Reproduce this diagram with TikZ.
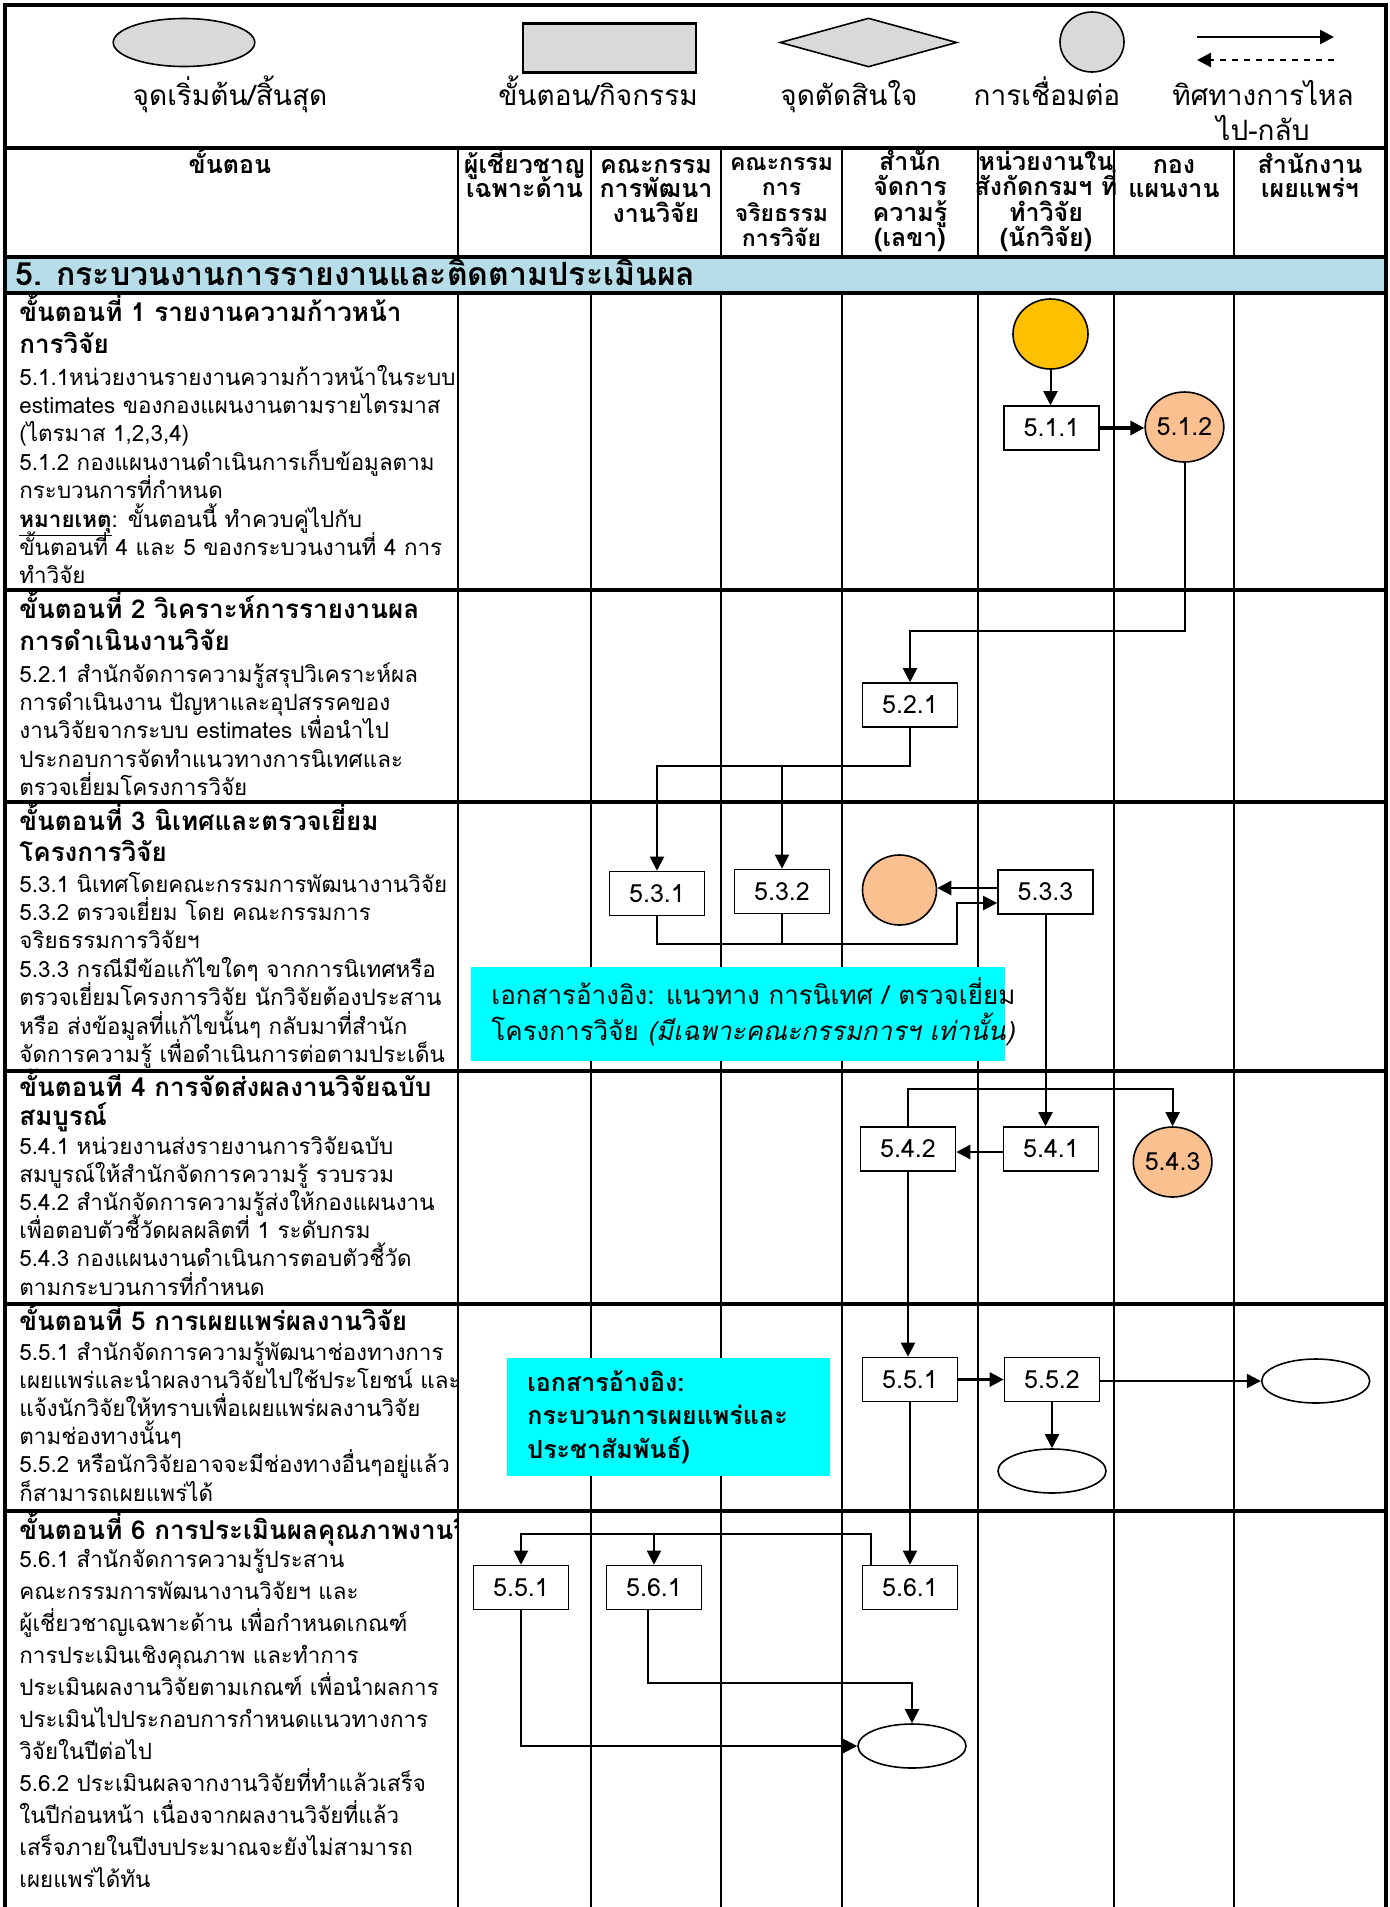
\documentclass[tikz,border=0pt]{standalone}
\usepackage{fontspec}
\setmainfont{Loma}[Script=Thai]
\usetikzlibrary{arrows.meta,shapes.geometric}
\definecolor{legendgray}{RGB}{217,217,217}
\definecolor{bandblue}{RGB}{183,221,232}
\definecolor{startyellow}{RGB}{255,192,0}
\definecolor{linkorange}{RGB}{250,192,144}
\definecolor{notecyan}{RGB}{0,255,255}
% a column of text lines, one node per line, placed on evenly spaced baselines
\newcommand{\linesat}[6]{%
  \foreach \tline [count=\k] in {#6}{%
    \node[#2] (#1\k) at (#3,{#4+(\k-1)*#5}) {\tline};}}
\begin{document}
\begin{tikzpicture}[x=0.5pt,y=-0.5pt,
  gridline/.style={line width=1pt},
  rowrule/.style={line width=1.6pt},
  flowarrow/.style={line width=1pt,-{Triangle[length=7pt,width=7pt]}},
  flowline/.style={line width=1pt},
  stepbox/.style={rectangle,draw,line width=0.8pt,fill=white,minimum width=47.5pt,minimum height=22pt,inner sep=0pt,font=\fontsize{12.5}{14}\selectfont},
  linkdot/.style={ellipse,draw,line width=0.8pt,minimum width=37.5pt,minimum height=35pt,inner sep=0pt,font=\fontsize{12.5}{14}\selectfont},
  terminal/.style={ellipse,draw,line width=0.8pt,fill=white,minimum width=54pt,minimum height=22pt,inner sep=0pt},
  refnote/.style={rectangle,fill=notecyan,inner sep=0pt},
  bodytext/.style={anchor=base west,inner sep=0pt,font=\fontsize{11.2}{13}\selectfont},
  headtext/.style={anchor=base west,inner sep=0pt,font=\bfseries\fontsize{13}{15}\selectfont},
  colhead/.style={anchor=base,inner sep=0pt,font=\bfseries\fontsize{12.5}{14}\selectfont},
  colheadsmall/.style={anchor=base,inner sep=0pt,font=\bfseries\fontsize{11.5}{13}\selectfont},
  legendtext/.style={anchor=base,inner sep=0pt,font=\fontsize{14}{16}\selectfont},
  notetext/.style={anchor=base west,inner sep=0pt,font=\fontsize{13}{15}\selectfont},
]
\useasboundingbox (0,0) rectangle (1390,1907);
\fill[white] (0,0) rectangle (1390,1907);

% ---------- table frame ----------
\fill[bandblue] (5,257) rectangle (1386,293);
\draw[line width=1.8pt] (5,1907) -- (5,5) -- (1386,5) -- (1386,1907);
\draw[line width=1.8pt] (5,148) -- (1386,148);
\draw[line width=1.8pt] (5,257) -- (1386,257);
\draw[rowrule] (5,293) -- (1386,293);
\foreach \yy in {590,802,1071,1304,1511} \draw[rowrule] (5,\yy) -- (1386,\yy);
\foreach \xx in {458,591,721,842,978,1114,1234} {
  \draw[gridline] (\xx,148) -- (\xx,257);
  \draw[gridline] (\xx,293) -- (\xx,1907);
}

% ---------- legend ----------
\node[ellipse,draw,fill=legendgray,line width=0.8pt,minimum width=70.75pt,minimum height=24pt,inner sep=0pt] (lgA) at (184,42.5) {};
\node[rectangle,draw,fill=legendgray,line width=0.6pt,minimum width=86.5pt,minimum height=24pt,inner sep=0pt] (lgB) at (609.5,48) {};
\draw[line width=1.6pt] (lgB.north west) -- (lgB.north east) (lgB.south west) -- (lgB.south east);
\node[diamond,draw,fill=legendgray,line width=0.8pt,minimum width=88.5pt,minimum height=24.5pt,inner sep=0pt] (lgC) at (868.5,42.5) {};
\node[ellipse,draw,fill=legendgray,line width=0.8pt,minimum width=32pt,minimum height=30pt,inner sep=0pt] (lgD) at (1092,42) {};
\coordinate (lgE1) at (1197,37);
\coordinate (lgE2) at (1334,37);
\coordinate (lgF1) at (1334,60);
\coordinate (lgF2) at (1197,60);
\draw[flowarrow,line width=1.3pt] (lgE1) -- (lgE2);
\draw[flowarrow,line width=1.3pt,dashed] (lgF1) -- (lgF2);
\node[legendtext] (ltA) at (230,105) {จุดเริ่มต้น/สิ้นสุด};
\node[legendtext] (ltB) at (598,105) {ขั้นตอน/กิจกรรม};
\node[legendtext] (ltC) at (849,105) {จุดตัดสินใจ};
\node[legendtext] (ltD) at (1047,105) {การเชื่อมต่อ};
\node[legendtext] (ltE) at (1263,105) {ทิศทางการไหล};
\node[legendtext] (ltF) at (1263,140) {ไป-กลับ};

% ---------- column headings ----------
\node[colhead] (hd0) at (230,173) {ขั้นตอน};
\linesat{hdA}{colhead}{524.5}{173}{24.5}{ผู้เชี่ยวชาญ,เฉพาะด้าน}
\linesat{hdB}{colhead}{656}{173}{24.5}{คณะกรรม,การพัฒนา,งานวิจัย}
\linesat{hdC}{colheadsmall}{781.5}{170}{25.5}{คณะกรรม,การ,จริยธรรม,การวิจัย}
\linesat{hdD}{colhead}{910}{170}{25.5}{สำนัก,จัดการ,ความรู้,(เลขา)}
\linesat{hdE}{colhead}{1046}{170}{25.5}{หน่วยงานใน,สังกัดกรมฯ ที่,ทำวิจัย,(นักวิจัย)}
\linesat{hdF}{colhead}{1174}{173}{24.5}{กอง,แผนงาน}
\linesat{hdG}{colhead}{1310}{173}{24.5}{สำนักงาน,เผยแพร่ฯ}

\node[anchor=base west,inner sep=0pt,font=\bfseries\fontsize{16}{18}\selectfont] (title) at (15,285) {5. กระบวนงานการรายงานและติดตามประเมินผล};

% ---------- step descriptions ----------
\begin{scope}
\clip (5,293) rectangle (457,1907);
\linesat{sAh}{headtext}{19}{321}{32}{ขั้นตอนที่ 1 รายงานความก้าวหน้า,การวิจัย}
\linesat{sAb}{bodytext}{19}{385}{28.4}{5.1.1หน่วยงานรายงานความก้าวหน้าในระบบ,estimates ของกองแผนงานตามรายไตรมาส,{(ไตรมาส 1,2,3,4)},5.1.2 กองแผนงานดำเนินการเก็บข้อมูลตาม,กระบวนการที่กำหนด,\underline{\textbf{หมายเหตุ}}: ขั้นตอนนี้ ทำควบคู่ไปกับ,ขั้นตอนที่ 4 และ 5 ของกระบวนงานที่ 4 การ,ทำวิจัย}
\linesat{sBh}{headtext}{19}{618}{32}{ขั้นตอนที่ 2 วิเคราะห์การรายงานผล,การดำเนินงานวิจัย}
\linesat{sBb}{bodytext}{19}{682}{28.4}{5.2.1 สำนักจัดการความรู้สรุปวิเคราะห์ผล,การดำเนินงาน ปัญหาและอุปสรรคของ,งานวิจัยจากระบบ estimates เพื่อนำไป,ประกอบการจัดทำแนวทางการนิเทศและ,ตรวจเยี่ยมโครงการวิจัย}
\linesat{sCh}{headtext}{19}{830}{31}{ขั้นตอนที่ 3 นิเทศและตรวจเยี่ยม,โครงการวิจัย}
\linesat{sCb}{bodytext}{19}{892}{28.4}{5.3.1 นิเทศโดยคณะกรรมการพัฒนางานวิจัย,5.3.2 ตรวจเยี่ยม โดย คณะกรรมการ,จริยธรรมการวิจัยฯ,5.3.3 กรณีมีข้อแก้ไขใดๆ จากการนิเทศหรือ,ตรวจเยี่ยมโครงการวิจัย นักวิจัยต้องประสาน,หรือ ส่งข้อมูลที่แก้ไขนั้นๆ กลับมาที่สำนัก,จัดการความรู้ เพื่อดำเนินการต่อตามประเด็น}
\linesat{sDh}{headtext}{19}{1096}{29}{ขั้นตอนที่ 4 การจัดส่งผลงานวิจัยฉบับ,สมบูรณ์}
\linesat{sDb}{bodytext}{19}{1154}{28.2}{5.4.1 หน่วยงานส่งรายงานการวิจัยฉบับ,สมบูรณ์ให้สำนักจัดการความรู้ รวบรวม,5.4.2 สำนักจัดการความรู้ส่งให้กองแผนงาน,เพื่อตอบตัวชี้วัดผลผลิตที่ 1 ระดับกรม,5.4.3 กองแผนงานดำเนินการตอบตัวชี้วัด,ตามกระบวนการที่กำหนด}
\node[headtext] (sEh1) at (19,1330) {ขั้นตอนที่ 5 การเผยแพร่ผลงานวิจัย};
\linesat{sEb}{bodytext}{19}{1360}{28.2}{5.5.1 สำนักจัดการความรู้พัฒนาช่องทางการ,เผยแพร่และนำผลงานวิจัยไปใช้ประโยชน์ และ,แจ้งนักวิจัยให้ทราบเพื่อเผยแพร่ผลงานวิจัย,ตามช่องทางนั้นๆ,5.5.2 หรือนักวิจัยอาจจะมีช่องทางอื่นๆอยู่แล้ว,ก็สามารถเผยแพร่ได้}
\node[headtext] (sFh1) at (19,1539) {ขั้นตอนที่ 6 การประเมินผลคุณภาพงานวิจัย};
\linesat{sFb}{bodytext}{19}{1567}{32}{5.6.1 สำนักจัดการความรู้ประสาน,คณะกรรมการพัฒนางานวิจัยฯ และ,ผู้เชี่ยวชาญเฉพาะด้าน เพื่อกำหนดเกณฑ์,การประเมินเชิงคุณภาพ และทำการ,ประเมินผลงานวิจัยตามเกณฑ์ เพื่อนำผลการ,ประเมินไปประกอบการกำหนดแนวทางการ,วิจัยในปีต่อไป,5.6.2 ประเมินผลจากงานวิจัยที่ทำแล้วเสร็จ,ในปีก่อนหน้า เนื่องจากผลงานวิจัยที่แล้ว,เสร็จภายในปีงบประมาณจะยังไม่สามารถ,เผยแพร่ได้ทัน}
\end{scope}

% ---------- reference notes ----------
\node[refnote,minimum width=267pt,minimum height=47pt] (refA) at (738,1014) {};
\node[notetext] (refA1) at (491,1004) {เอกสารอ้างอิง: แนวทาง การนิเทศ / ตรวจเยี่ยม};
\node[notetext] (refA2) at (491,1040) {โครงการวิจัย \textit{(มีเฉพาะคณะกรรมการฯ เท่านั้น)}};
\node[refnote,minimum width=161.5pt,minimum height=59pt] (refB) at (668.5,1417) {};
\linesat{refBt}{notetext,font=\bfseries\fontsize{12.5}{14}\selectfont}{527}{1391}{33.5}{เอกสารอ้างอิง:,กระบวนการเผยแพร่และ,ประชาสัมพันธ์)}

% ---------- flow nodes ----------
\node[linkdot,fill=startyellow] (start) at (1050.5,334) {};
\node[stepbox] (n511) at (1051.5,428) {5.1.1};
\node[linkdot,fill=linkorange] (n512) at (1184.5,427) {5.1.2};
\node[stepbox] (n521) at (910,705) {5.2.1};
\node[stepbox] (n531) at (657,893.5) {5.3.1};
\node[stepbox] (n532) at (782,891.5) {5.3.2};
\node[linkdot,fill=linkorange,minimum width=37pt] (c53) at (899.5,890) {};
\node[stepbox] (n533) at (1045.5,892) {5.3.3};
\node[stepbox] (n541) at (1051,1149) {5.4.1};
\node[stepbox] (n542) at (908,1149) {5.4.2};
\node[linkdot,fill=linkorange] (c543) at (1172.6,1162) {5.4.3};
\node[stepbox] (n551) at (910,1379.5) {5.5.1};
\node[stepbox] (n552) at (1052,1379.5) {5.5.2};
\node[terminal] (eR) at (1315.7,1381) {};
\node[terminal] (eB) at (1052,1471) {};
\node[stepbox] (b551) at (521,1587.5) {5.5.1};
\node[stepbox] (b561m) at (654,1587.5) {5.6.1};
\node[stepbox] (b561r) at (910,1587.5) {5.6.1};
\node[terminal] (eEnd) at (912,1746) {};

% ---------- connectors ----------
\draw[flowarrow] (start.south) -- (start.south |- n511.north);
\draw[flowarrow,line width=1.6pt] (n511.east) -- (n511.east -| n512.west);
\coordinate (r1) at (910,631);
\draw[flowarrow] (n512.south) |- (r1) -- (n521.north);
\coordinate (r2) at (657,766);
\coordinate (r3) at (782,766);
\draw[flowarrow] (n521.south) |- (r2) -- (n531.north);
\draw[flowarrow] (r3) -- (n532.north);
\draw[flowarrow,line width=1.4pt] (n533.west |- 0,888) -- (c53.east |- 0,888);
\coordinate (r4) at (957,944);
\draw[flowarrow] (n531.south) |- (r4) |- (n533.west |- 0,903);
\draw[flowline] (n532.south) -- (n532.south |- r4);
\draw[flowarrow] (n533.south) -- (n533.south |- n541.north);
\draw[flowarrow,line width=1.4pt] (n541.west |- 0,1152) -- (n542.east |- 0,1152);
\coordinate (r5) at (1172.6,1089);
\draw[flowarrow] (n542.north) |- (r5) -- (c543.north);
\draw[flowarrow] (n542.south) -- (n542.south |- n551.north);
\draw[flowarrow,line width=1.4pt] (n551.east) -- (n551.east -| n552.west);
\draw[flowarrow] (n552.east |- 0,1381) -- (eR.west);
\draw[flowarrow] (n552.south) -- (eB.north);
\draw[flowarrow] (n551.south) -- (b561r.north);
\coordinate (r6) at (521,1534);
\draw[flowarrow] ([xshift=4.5pt]b561r.north west) |- (r6) -- (b551.north);
\draw[flowarrow] (b561m.north |- r6) -- (b561m.north);
\coordinate (r7) at (912,1683);
\draw[flowarrow] ([xshift=-3pt]b561m.south) |- (r7) -- (eEnd.north);
\draw[flowarrow] (b551.south) |- (eEnd.west);
\end{tikzpicture}
\end{document}
